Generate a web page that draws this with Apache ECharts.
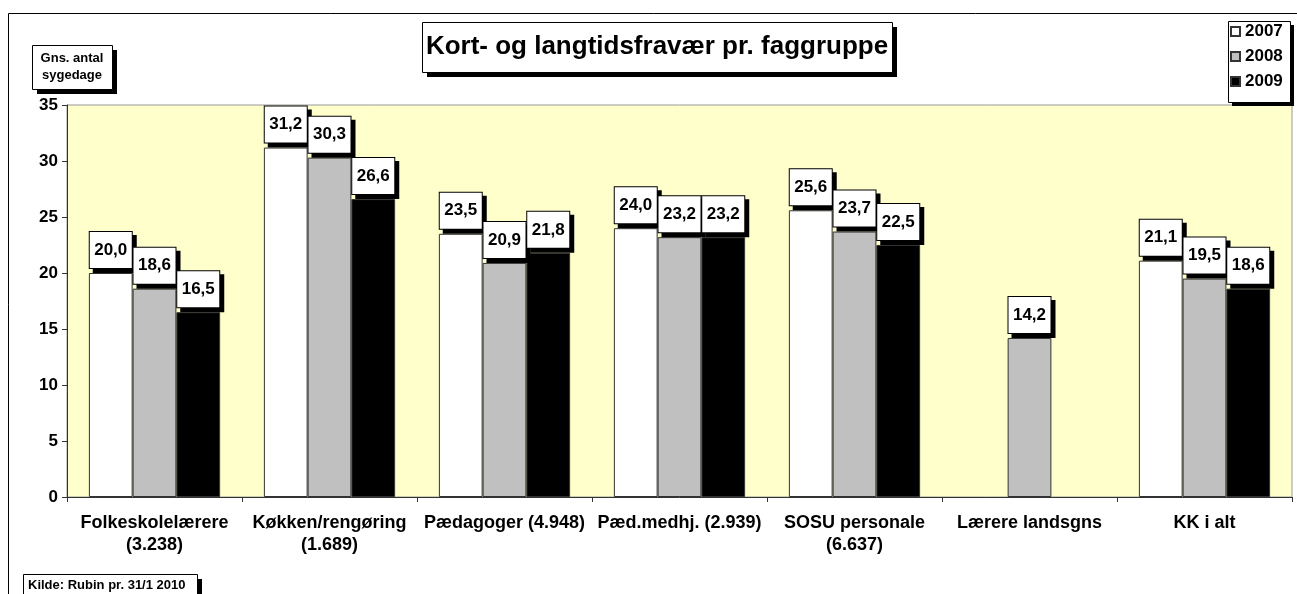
<!DOCTYPE html>
<html>
<head>
<meta charset="utf-8">
<script src="https://cdn.jsdelivr.net/npm/echarts@6/dist/echarts.min.js"></script>
<style>
  html, body { margin: 0; padding: 0; background: #fff; }
  #chart { width: 1297px; height: 594px; }
</style>
</head>
<body>
<div id="chart"></div>
<script>
var categories = ['Folkeskolelærere\n(3.238)', 'Køkken/rengøring\n(1.689)', 'Pædagoger (4.948)',
    'Pæd.medhj. (2.939)', 'SOSU personale\n(6.637)', 'Lærere landsgns', 'KK i alt'];
var years = ['2007', '2008', '2009'];
var v2007 = [20.0, 31.2, 23.5, 24.0, 25.6, null, 21.1];
var v2008 = [18.6, 30.3, 20.9, 23.2, 23.7, 14.2, 19.5];
var v2009 = [16.5, 26.6, 21.8, 23.2, 22.5, null, 18.6];
var yTicks = { min: 0, max: 35, step: 5 };

var font = "'Liberation Sans', Arial, sans-serif";
var colors = ['#ffffff', '#c0c0c0', '#000000'];

var chart = echarts.init(document.getElementById('chart'));

function mkSeries(name, data, color) {
    return {
        name: name,
        type: 'bar',
        data: data,
        barGap: '0%',
        barCategoryGap: '25%',
        itemStyle: { color: color, borderColor: '#333', borderWidth: 1 },
        label: {
            show: true,
            position: 'top',
            distance: 5,
            formatter: function (p) { return p.value == null ? '' : p.value.toFixed(1).replace('.', ','); },
            color: '#000',
            fontFamily: font,
            fontWeight: 'bold',
            fontSize: 17,
            lineHeight: 18,
            width: 34,
            align: 'center',
            padding: [9, 4],
            backgroundColor: '#fff',
            borderColor: '#000',
            borderWidth: 1,
            shadowColor: '#000',
            shadowOffsetX: 4,
            shadowOffsetY: 4,
            shadowBlur: 0
        }
    };
}

// white box with black outline and hard black drop shadow
function box(x, y, w, h, off, text, size, lh) {
    var els = [
        { type: 'rect', shape: { x: x + off, y: y + off, width: w, height: h }, style: { fill: '#000' } },
        { type: 'rect', shape: { x: x + 0.5, y: y + 0.5, width: w, height: h }, style: { fill: '#fff', stroke: '#000', lineWidth: 1 } }
    ];
    if (text) {
        els.push({
            type: 'text', x: x + w / 2, y: y + h / 2,
            style: {
                text: text, fill: '#000', align: 'center', verticalAlign: 'middle',
                font: 'bold ' + size + 'px ' + font, lineHeight: lh
            }
        });
    }
    return { type: 'group', z: 1, children: els };
}

var option = {
    animation: false,
    backgroundColor: '#fff',
    legend: {
        data: years,
        orient: 'vertical',
        left: 1230, top: 23,
        padding: 0,
        z: 10,
        itemWidth: 9, itemHeight: 9, itemGap: 8,
        icon: 'rect',
        textStyle: { fontFamily: font, fontWeight: 'bold', fontSize: 17, color: '#000', padding: [0, 0, 0, 0] }
    },
    grid: {
        left: 67, right: 5, top: 105, bottom: 97,
        show: true,
        backgroundColor: '#ffffcc',
        borderColor: '#999',
        borderWidth: 1
    },
    xAxis: {
        type: 'category',
        data: categories,
        axisLine: { lineStyle: { color: '#333', width: 1 } },
        axisTick: { show: true, length: 5, lineStyle: { color: '#333' } },
        axisLabel: {
            interval: 0, margin: 15,
            fontFamily: font, fontWeight: 'bold', fontSize: 18, lineHeight: 22, color: '#000'
        }
    },
    yAxis: {
        type: 'value',
        min: yTicks.min, max: yTicks.max, interval: yTicks.step,
        splitLine: { show: false },
        axisLine: { show: true, lineStyle: { color: '#333' } },
        axisTick: { show: true, length: 5, lineStyle: { color: '#333' } },
        axisLabel: { margin: 9, fontFamily: font, fontWeight: 'bold', fontSize: 17, color: '#000' }
    },
    graphic: [
        {
            type: 'rect', z: -10,
            shape: { x: 8.5, y: 13.5, width: 1400, height: 700 },
            style: { fill: 'none', stroke: '#000', lineWidth: 1 }
        },
        box(422, 22, 470, 50, 5, 'Kort- og langtidsfravær pr. faggruppe', 26, 30),
        box(32, 45, 80, 44, 5, 'Gns. antal\nsygedage', 13, 17),
        box(23, 574, 174, 40, 5, null),
        {
            type: 'text', z: 2, x: 28, y: 585,
            style: { text: 'Kilde: Rubin pr. 31/1 2010', fill: '#000', verticalAlign: 'middle', font: 'bold 13px ' + font }
        },
        box(1228, 21, 62, 81, 4, null)
    ],
    series: [
        mkSeries(years[0], v2007, colors[0]),
        mkSeries(years[1], v2008, colors[1]),
        mkSeries(years[2], v2009, colors[2])
    ]
};

chart.setOption(option);
</script>
</body>
</html>
